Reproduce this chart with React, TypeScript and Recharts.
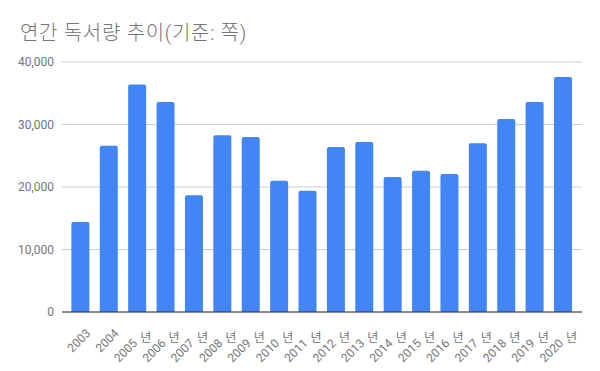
import { BarChart, Bar, XAxis, YAxis, CartesianGrid } from "recharts";

const years = [
    "2003", "2004", "2005 년", "2006 년", "2007 년", "2008 년", "2009 년", "2010 년", "2011 년",
    "2012 년", "2013 년", "2014 년", "2015 년", "2016 년", "2017 년", "2018 년", "2019 년", "2020 년",
];
const pages = [
    14400, 26600, 36400, 33600, 18700, 28300, 28000, 21000, 19400,
    26400, 27200, 21600, 22600, 22100, 27000, 30900, 33600, 37600,
];
const yTicks = [0, 10000, 20000, 30000, 40000];

const chartData = years.map((year, i) => ({ year, pages: pages[i] }));

const FONT = "Roboto, 'Noto Sans CJK KR', sans-serif";

// the year digits run along the slant, the 년 glyph stays upright
function YearTick(props: any) {
    const { x, y, payload } = props;
    const [num, suffix] = String(payload.value).split(" ");
    return (
        <text
            transform={`translate(${x + 5},${y + 8}) rotate(-45)`}
            textAnchor="end"
            dy="0.71em"
            fontSize={12}
            fill="#757575"
            fontFamily={FONT}
        >
            <tspan>{suffix ? num + " " : num}</tspan>
            {suffix && <tspan rotate="45">{suffix}</tspan>}
        </text>
    );
}

export default function App() {
    return (
        <div style={{ position: "absolute", left: 0, top: 0, width: 600, height: 371, background: "#fff" }}>
            <div
                style={{
                    position: "absolute",
                    left: 20,
                    top: 17,
                    fontSize: 20,
                    fontWeight: 300,
                    letterSpacing: 0.7,
                    color: "#757575",
                    fontFamily: FONT,
                    whiteSpace: "nowrap",
                }}
            >
                연간 독서량 추이(기준: 쪽)
            </div>
            <BarChart
                width={600}
                height={371}
                data={chartData}
                margin={{ top: 62, right: 18, left: 0, bottom: 29 }}
                barCategoryGap="19%"
            >
                <CartesianGrid vertical={false} stroke="#cccccc" />
                <XAxis
                    dataKey="year"
                    interval={0}
                    height={30}
                    tick={<YearTick />}
                    tickLine={false}
                    axisLine={{ stroke: "#333333" }}
                    padding={{ left: 4, right: 5 }}
                />
                <YAxis
                    width={62}
                    domain={[0, 40000]}
                    ticks={yTicks}
                    tickFormatter={(v: number) => v.toLocaleString("en-US")}
                    tickLine={false}
                    axisLine={false}
                    tick={{ fontSize: 12, fill: "#757575", fontFamily: FONT }}
                />
                <Bar dataKey="pages" fill="#4285f4" radius={[2, 2, 0, 0]} isAnimationActive={false} />
            </BarChart>
        </div>
    );
}
